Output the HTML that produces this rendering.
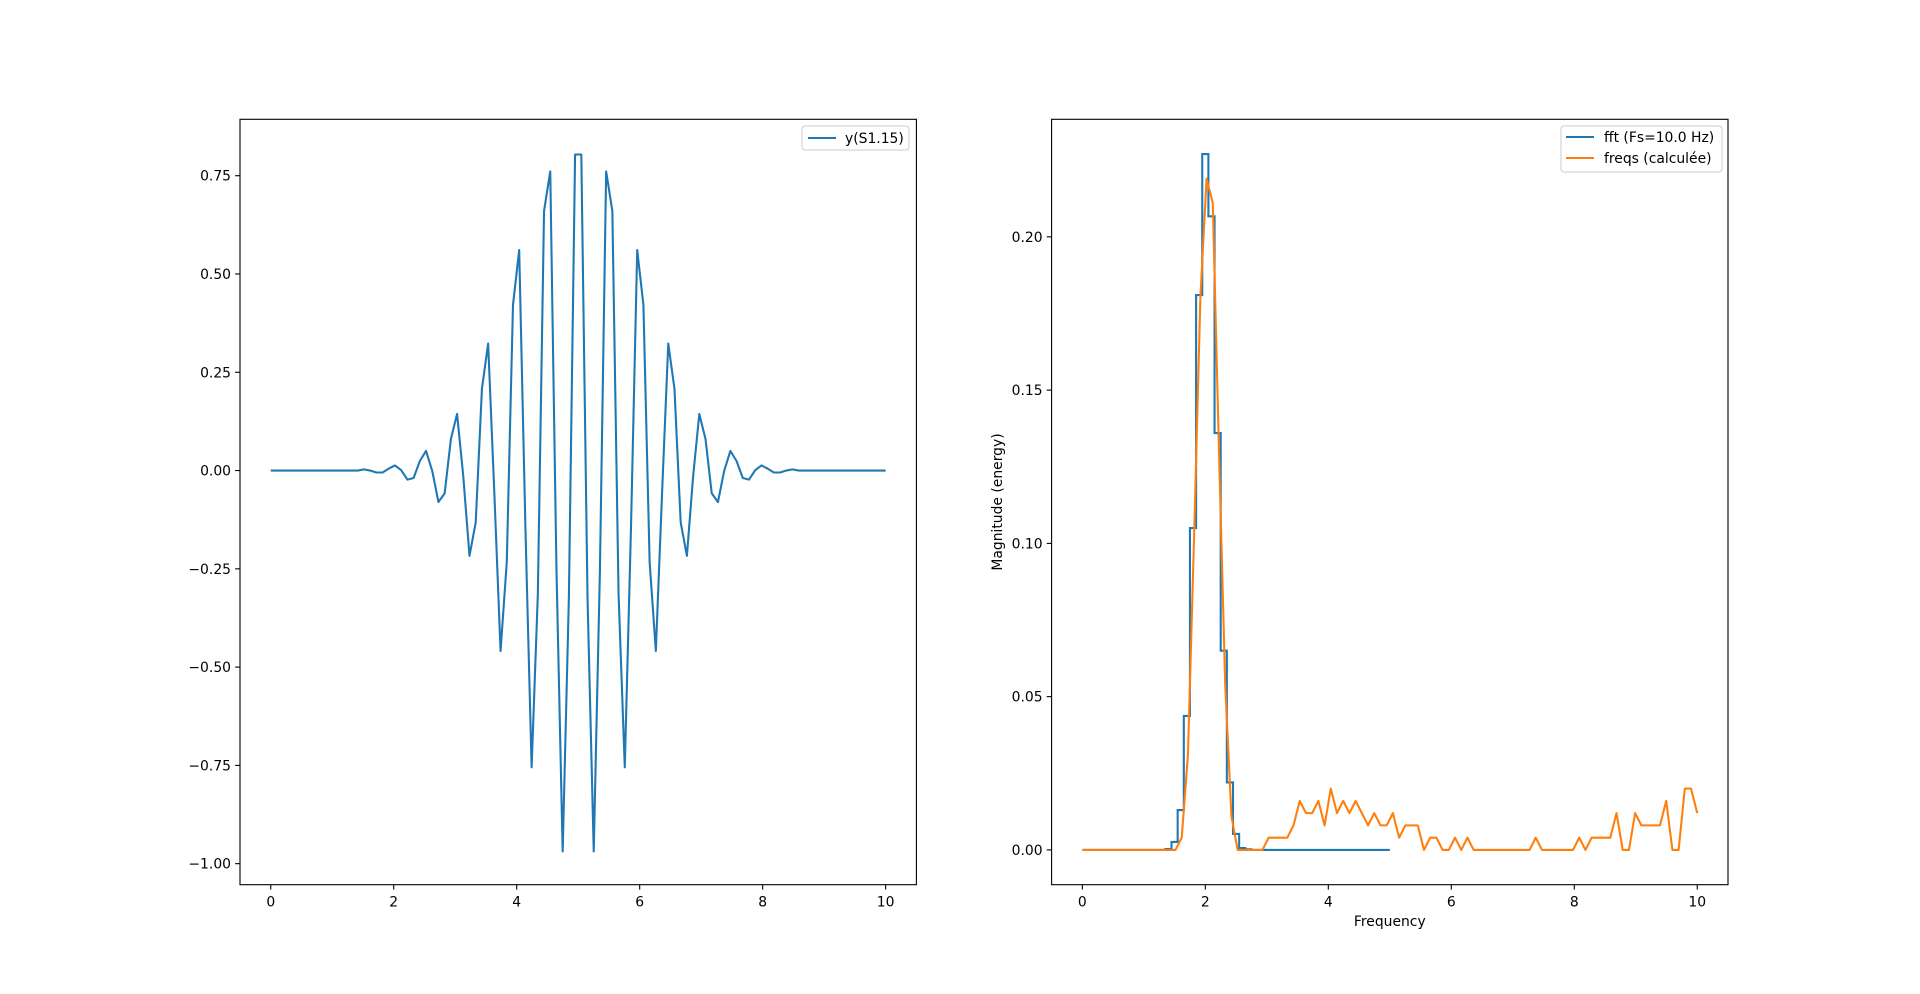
<!DOCTYPE html>
<html><head><meta charset="utf-8"><style>
html,body{margin:0;padding:0;background:#fff}
svg{display:block;font-family:"DejaVu Sans","Liberation Sans",sans-serif}
</style></head><body>
<svg id="fig" width="1920" height="994" viewBox="0 0 1920 994" xmlns="http://www.w3.org/2000/svg">
<rect width="1920" height="994" fill="#fff"/>
<g id="left"></g>
<g id="right"></g>
</svg>
<script>
const sigT0 = 0, sigT1 = 10;
const sigValues = [0,0,0,0,0,0,0,0,0,0,0,0,0,0,0,.003,.000,-.005,-.005,.005,.013,.001,-.023,-.019,.024,.050,-.001,-.080,-.058,.080,.144,-.015,-.217,-.132,.208,.323,-.058,-.459,-.233,.421,.561,-.144,-.755,-.315,.660,.761,-.251,-.969,-.323,.804,
.804,-.323,-.969,-.251,.761,.660,-.315,-.755,-.144,.561,.421,-.233,-.459,-.058,.323,.208,-.132,-.217,-.015,.144,.080,-.058,-.080,-.001,.050,.024,-.019,-.023,.001,.013,.005,-.005,-.005,.000,.003,0,0,0,0,0,0,0,0,0,0,0,0,0,0,0];
const leftXTicks = [0,2,4,6,8,10];
const leftYTicks = [-1.00,-0.75,-0.50,-0.25,0.00,0.25,0.50,0.75];
const fftFreqStep = 0.1;
const fftValues = [0,0,0,0,0,0,0,0,0,0,0,0,0,0,.0003,.0026,.013,.0437,.105,.181,.227,.2067,.136,.065,.022,.0052,.0006,.0002,0,0,0,0,0,0,0,0,0,0,0,0,0,0,0,0,0,0,0,0,0,0,0];
const freqsValues = [0,0,0,0,0,0,0,0,0,0,0,0,0,0,0,0,.004,.031,.103,.18,.219,.211,.13,.054,.011,0,0,0,0,0,
.004,.004,.004,.004,.008,.016,.012,.012,.016,.008,.020,.012,.016,.012,.016,.012,.008,.012,.008,.008,.012,.004,.008,.008,.008,0,.004,.004,0,0,.004,0,.004,0,
0,0,0,0,0,0,0,0,0,.004,0,0,0,0,0,0,.004,0,.004,.004,.004,.004,.012,0,0,.012,.008,.008,.008,.008,.016,0,0,.020,.020,.012];
const rightXTicks = [0,2,4,6,8,10];
const rightYTicks = [0.00,0.05,0.10,0.15,0.20];

const NS="http://www.w3.org/2000/svg";
function mk(parent,tag,attrs){const e=document.createElementNS(NS,tag);for(const k in attrs)e.setAttribute(k,attrs[k]);parent.appendChild(e);return e;}

function axes(g,box,xd,yd,xt,yt,fmtY,name){
  const sx=v=>box.x0+(v-xd[0])/(xd[1]-xd[0])*(box.x1-box.x0);
  const sy=v=>box.y1-(v-yd[0])/(yd[1]-yd[0])*(box.y1-box.y0);
  xt.forEach(t=>{
    const l=mk(g,'line',{x1:sx(t),x2:sx(t),y1:box.y1,y2:box.y1+4.9,stroke:'#000','stroke-width':1.1});
    
    
    const tx=mk(g,'text',{x:sx(t),y:box.y1+22,'font-size':'13.9px','text-anchor':'middle',fill:'#000'});
    tx.textContent=String(t);
    
    
  });
  yt.forEach(t=>{
    const l=mk(g,'line',{x1:box.x0-4.9,x2:box.x0,y1:sy(t),y2:sy(t),stroke:'#000','stroke-width':1.1});
    
    
    const tx=mk(g,'text',{x:box.x0-9,y:sy(t)+5,'font-size':'13.9px','text-anchor':'end',fill:'#000'});
    tx.textContent=fmtY(t);
    
    
  });
  return {sx,sy};
}
function frame(g,box){
  const r=mk(g,'rect',{x:box.x0,y:box.y0,width:box.x1-box.x0,height:box.y1-box.y0,fill:'none',stroke:'#000','stroke-width':1.1});
  
  
}
const fmt=v=>(v<0?'\u2212':'')+Math.abs(v).toFixed(2);

// LEFT
(function(){
  const g=document.getElementById('left');
  const box={x0:240,x1:916.4,y0:119.3,y1:884.7};
  const {sx,sy}=axes(g,box,[-0.5,10.5],[-1.0535,0.8935],leftXTicks,leftYTicks,fmt);
  const n=sigValues.length;
  const pts=sigValues.map((v,i)=>[sx(sigT0+(sigT1-sigT0)*i/(n-1)),sy(v)]);
  const p=mk(g,'path',{d:'M'+pts.map(p=>p[0].toFixed(2)+','+p[1].toFixed(2)).join('L'),fill:'none',stroke:'#1f77b4','stroke-width':2.08,'stroke-linejoin':'round'});
  
  
  frame(g,box);
  const lg=mk(g,'g',{});
  
  
  mk(lg,'rect',{x:802,y:126,width:107,height:24,rx:3,fill:'#fff',stroke:'#ccc','stroke-width':1});
  mk(lg,'line',{x1:808,x2:836,y1:138,y2:138,stroke:'#1f77b4','stroke-width':2.08});
  const t=mk(lg,'text',{x:845,y:143,'font-size':'13.9px',fill:'#000'});t.textContent='y(S1.15)';
  
  
})();

// RIGHT
(function(){
  const g=document.getElementById('right');
  const box={x0:1051.6,x1:1728,y0:119.3,y1:884.7};
  const {sx,sy}=axes(g,box,[-0.5,10.5],[-0.01135,0.23835],rightXTicks,rightYTicks,v=>v.toFixed(2));
  // fft steps-mid
  let d='';
  fftValues.forEach((v,i)=>{
    const x=sx(i*fftFreqStep), y=sy(v);
    if(i===0){d+='M'+x.toFixed(2)+','+y.toFixed(2);}
    else{const xm=sx((i-0.5)*fftFreqStep);d+='L'+xm.toFixed(2)+','+sy(fftValues[i-1]).toFixed(2)+'L'+xm.toFixed(2)+','+y.toFixed(2);}
    if(i===fftValues.length-1)d+='L'+x.toFixed(2)+','+y.toFixed(2);
  });
  const p1=mk(g,'path',{d,fill:'none',stroke:'#1f77b4','stroke-width':2.08,'stroke-linejoin':'miter'});
  
  
  const n=freqsValues.length;
  const pts=freqsValues.map((v,i)=>[sx(10*i/(n-1)),sy(v)]);
  const p2=mk(g,'path',{d:'M'+pts.map(p=>p[0].toFixed(2)+','+p[1].toFixed(2)).join('L'),fill:'none',stroke:'#ff7f0e','stroke-width':2.08,'stroke-linejoin':'round'});
  
  
  frame(g,box);
  const xl=mk(g,'text',{x:(box.x0+box.x1)/2,y:926,'font-size':'13.9px','text-anchor':'middle',fill:'#000'});
  xl.textContent='Frequency';
  
  
  const yl=mk(g,'text',{x:0,y:0,'font-size':'13.9px','text-anchor':'middle',fill:'#000',transform:'translate(1002,'+((box.y0+box.y1)/2)+') rotate(-90)'});
  yl.textContent='Magnitude (energy)';
  
  
  const lg=mk(g,'g',{});
  
  
  mk(lg,'rect',{x:1561,y:126,width:161,height:46,rx:3,fill:'#fff',stroke:'#ccc','stroke-width':1});
  mk(lg,'line',{x1:1566,x2:1594,y1:137,y2:137,stroke:'#1f77b4','stroke-width':2.08});
  const t1=mk(lg,'text',{x:1604,y:142,'font-size':'13.9px',fill:'#000'});t1.textContent='fft (Fs=10.0 Hz)';
  
  
  mk(lg,'line',{x1:1566,x2:1594,y1:158,y2:158,stroke:'#ff7f0e','stroke-width':2.08});
  const t2=mk(lg,'text',{x:1604,y:163,'font-size':'13.9px',fill:'#000'});t2.textContent='freqs (calculée)';
  
  
})();
</script>
</body></html>
